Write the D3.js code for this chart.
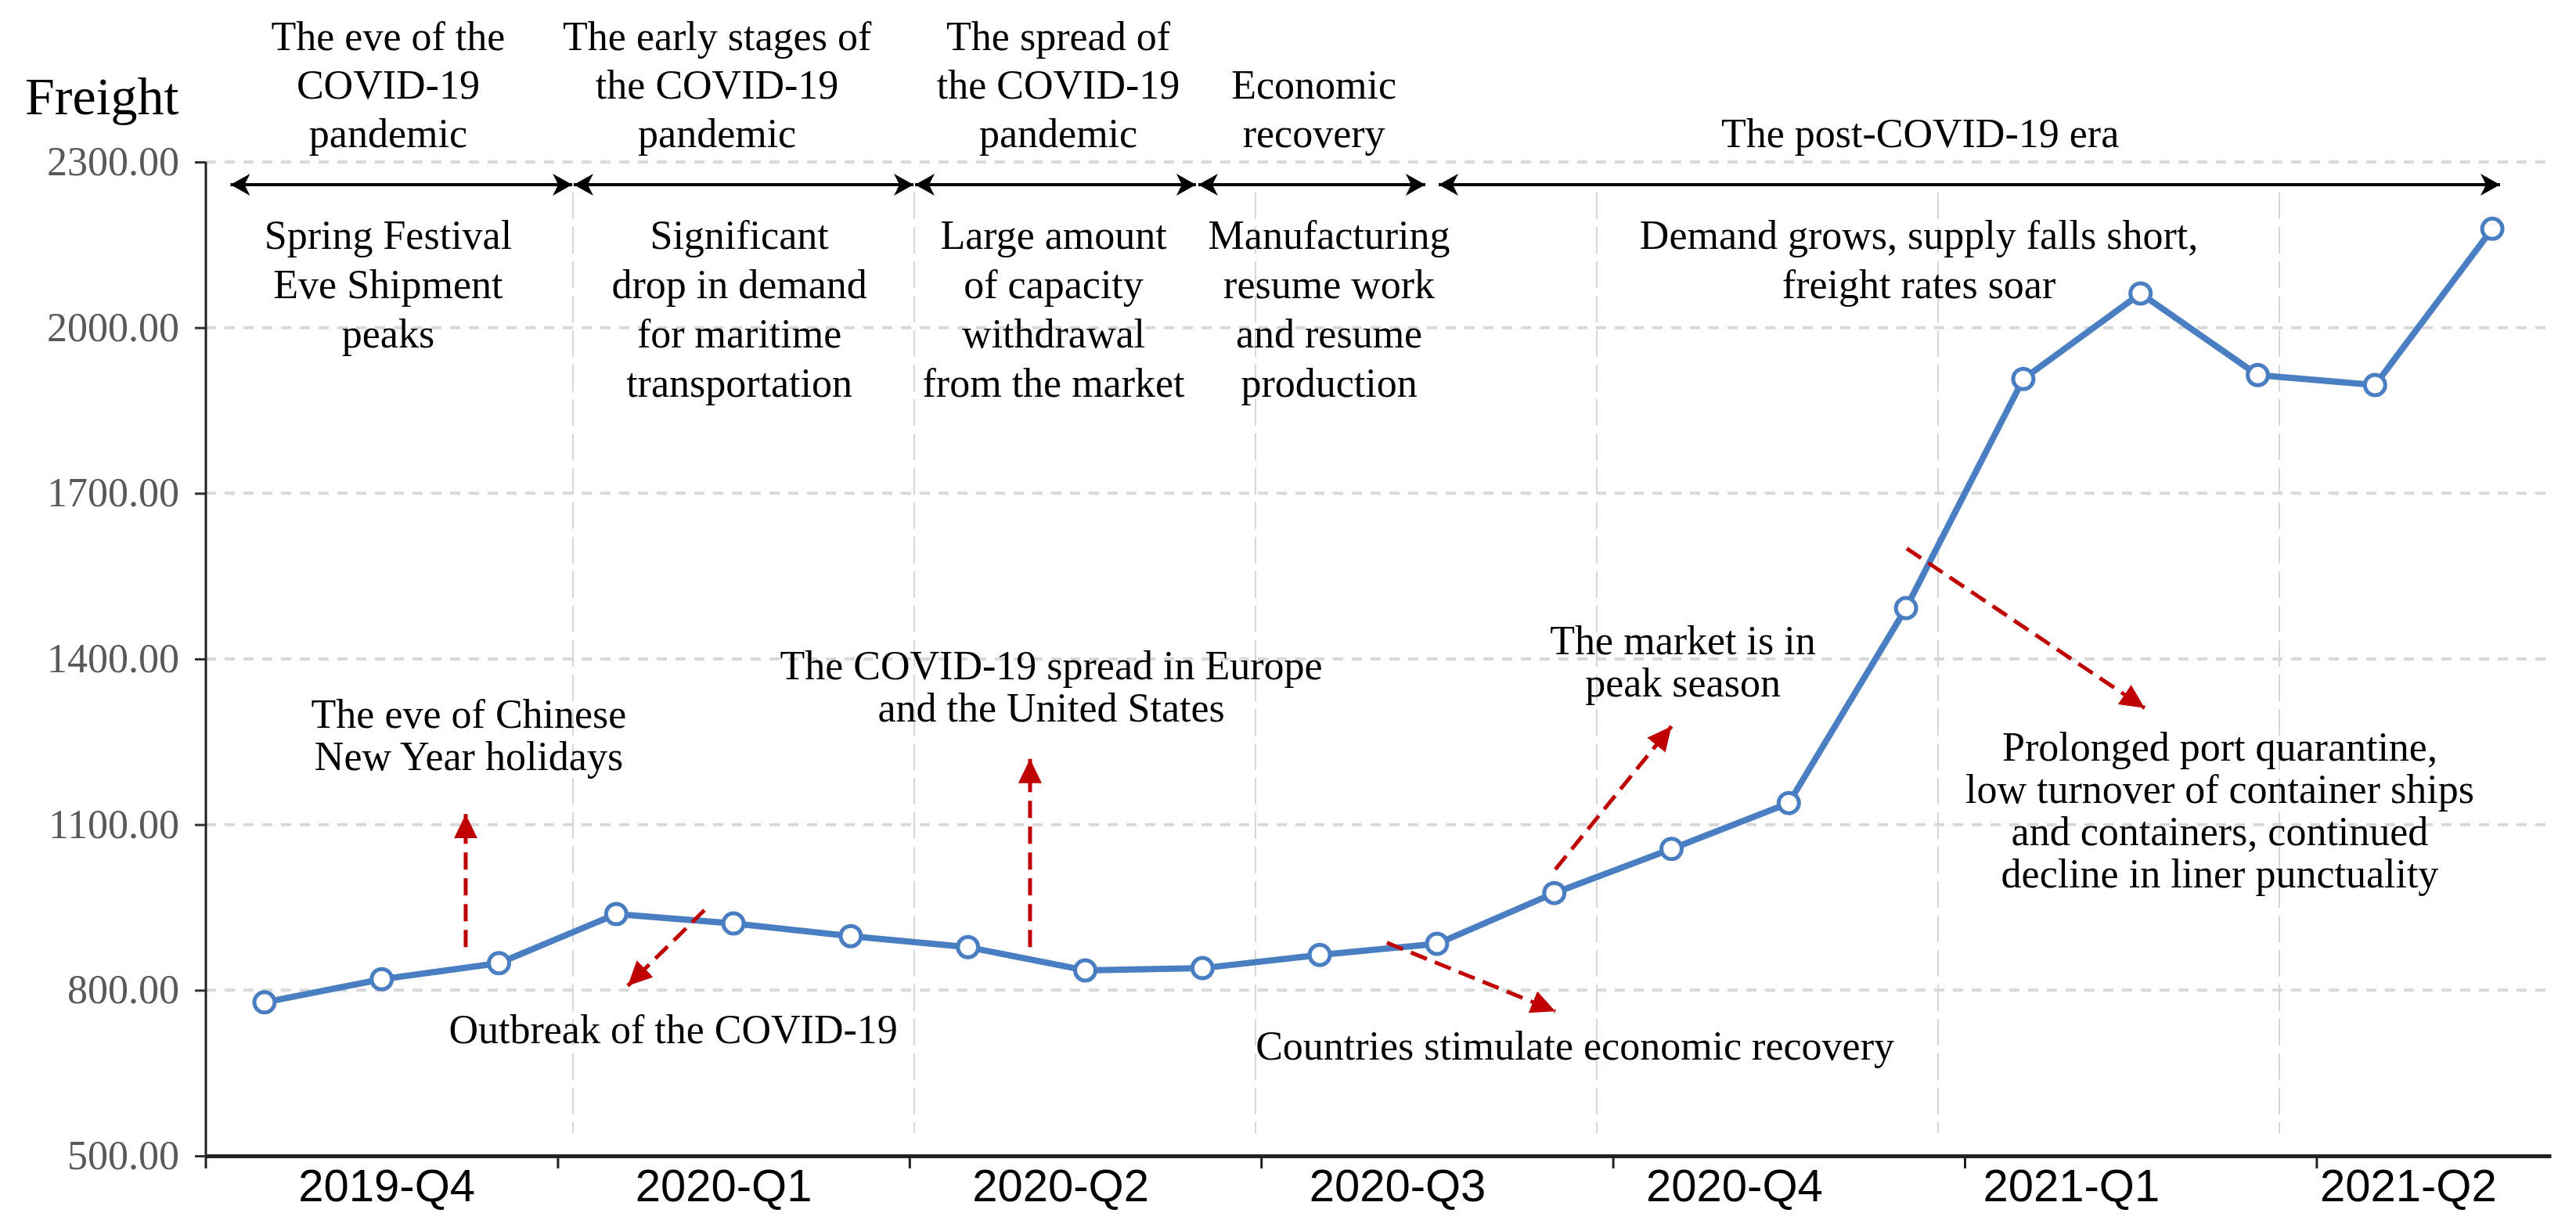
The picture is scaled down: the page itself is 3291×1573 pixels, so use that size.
<!DOCTYPE html>
<html>
<head>
<meta charset="utf-8">
<script src="https://cdn.jsdelivr.net/npm/d3@7"></script>
<style>
  body { margin: 0; background: #fff; }
  text { font-family: "Liberation Serif", "Times New Roman", serif; }
</style>
</head>
<body>
<div class="chart"></div>
<script>
// monthly freight index, Oct 2019 .. May 2021
const months = ["2019-10","2019-11","2019-12","2020-01","2020-02","2020-03","2020-04","2020-05","2020-06",
  "2020-07","2020-08","2020-09","2020-10","2020-11","2020-12","2021-01","2021-02","2021-03","2021-04","2021-05"]
const freight = [778, 820, 849, 938, 921, 898, 878, 836, 840, 864, 884, 976, 1056, 1139, 1492, 1907, 2062, 1914, 1896, 2179]
const quarters = ["2019-Q4","2020-Q1","2020-Q2","2020-Q3","2020-Q4","2021-Q1","2021-Q2"]
const quarterBreaks = [2.5, 5.5, 8.5, 11.5, 14.5, 17.5]
const yTicks = [500, 800, 1100, 1400, 1700, 2000, 2300]

// phases (in month-index units)
const phaseTop = [
  ["The eve of the", "COVID-19", "pandemic"],
  ["The early stages of", "the COVID-19", "pandemic"],
  ["The spread of", "the COVID-19", "pandemic"],
  ["Economic", "recovery"],
  ["The post-COVID-19 era"]
]
const phaseBottom = [
  ["Spring Festival", "Eve Shipment", "peaks"],
  ["Significant", "drop in demand", "for maritime", "transportation"],
  ["Large amount", "of capacity", "withdrawal", "from the market"],
  ["Manufacturing", "resume work", "and resume", "production"],
  ["Demand grows, supply falls short,", "freight rates soar"]
]
const phaseSpan = [[-0.29, 2.625], [2.637, 5.535], [5.548, 7.944], [7.964, 9.9], [10.014, 19.066]]
const phaseTopAt = [1.055, 3.86, 6.77, 8.95, 14.12]
const phaseBottomAt = [1.055, 4.05, 6.73, 9.08, 14.11]

// event notes: text anchor and red arrow (month index, freight)
const noteText = [
  ["The eve of Chinese", "New Year holidays"],
  ["Outbreak of the COVID-19"],
  ["The COVID-19 spread in Europe", "and the United States"],
  ["Countries stimulate economic recovery"],
  ["The market is in", "peak season"],
  ["Prolonged port quarantine,", "low turnover of container ships", "and containers, continued", "decline in liner punctuality"]
]
const noteAt = [[1.743, 1275], [3.486, 704], [6.71, 1363], [11.176, 674], [12.097, 1408], [16.676, 1216]]
const arrowFrom = [[1.716, 878], [3.752, 945], [6.529, 878], [9.573, 886], [11.009, 1019], [14.006, 1600]]
const arrowTo = [[1.716, 1119], [3.098, 808], [6.529, 1219], [11.009, 762], [12.0, 1278], [16.035, 1311]]

const W = 3291
const H = 1573
const blue = "#4a7ec2"
const red = "#c00000"

const svg = d3.select(".chart").append("svg")
  .attr("width", W).attr("height", H)

const defs = svg.append("defs")
defs.append("marker")
  .attr("id", "headBlack")
  .attr("markerUnits", "userSpaceOnUse")
  .attr("markerWidth", 26).attr("markerHeight", 28)
  .attr("refX", 25).attr("refY", 14)
  .attr("orient", "auto-start-reverse")
  .append("path").attr("d", "M0,0 L25,14 L0,28 L7,14 Z").attr("fill", "#000")
defs.append("marker")
  .attr("id", "headRed")
  .attr("markerUnits", "userSpaceOnUse")
  .attr("markerWidth", 32).attr("markerHeight", 30)
  .attr("refX", 31).attr("refY", 15)
  .attr("orient", "auto")
  .append("path").attr("d", "M0,0 L31,15 L0,30 Z").attr("fill", red)

const x = d3.scaleLinear().domain([-0.5, 19.5]).range([263, 3259])
const y = d3.scaleLinear().domain([500, 2300]).range([1477, 207])
const labelX = d3.scaleBand().domain(quarters).range([279, 3292])
const gridX = d3.scaleLinear().domain([0, 7]).range([296, 3348])

// grid
svg.append("g")
  .selectAll("line")
  .data(yTicks.slice(1))
  .enter()
  .append("line")
  .attr("x1", x(-0.5)).attr("x2", x(19.5))
  .attr("y1", (d) => y(d)).attr("y2", (d) => y(d))
  .attr("stroke", "#d9d9d9").attr("stroke-width", 4)
  .attr("stroke-dasharray", "13,11")

svg.append("g")
  .selectAll("line")
  .data(d3.range(1, 7))
  .enter()
  .append("line")
  .attr("x1", (d) => gridX(d)).attr("x2", (d) => gridX(d))
  .attr("y1", 246).attr("y2", 1448)
  .attr("stroke", "#d6d6d6").attr("stroke-width", 2)
  .attr("stroke-dasharray", "34,10")

// y axis
const yAxis = svg.append("g")
  .attr("transform", `translate(${x(-0.5)},0)`)
  .call(d3.axisLeft(y).tickValues(yTicks).tickFormat(d3.format(".2f")).tickSize(14).tickSizeOuter(0).tickPadding(20))
yAxis.select(".domain").remove()
yAxis.selectAll(".tick line").attr("stroke", "#333").attr("stroke-width", 3)
yAxis.selectAll(".tick text")
  .attr("font-family", "Liberation Serif, serif")
  .attr("font-size", 52)
  .attr("fill", "#595959")

svg.append("line")
  .attr("x1", x(-0.5)).attr("x2", x(-0.5))
  .attr("y1", y(2300)).attr("y2", y(500) + 16)
  .attr("stroke", "#222").attr("stroke-width", 3)

// x axis
const xAxis = svg.append("g")
  .attr("transform", `translate(0,${y(500)})`)
  .call(d3.axisBottom(x).tickValues(quarterBreaks).tickFormat("").tickSize(16).tickSizeOuter(0))
xAxis.select(".domain").attr("stroke", "#222").attr("stroke-width", 5)
xAxis.selectAll(".tick line").attr("stroke", "#222").attr("stroke-width", 3)

svg.append("g")
  .selectAll("text")
  .data(quarters)
  .enter()
  .append("text")
  .attr("x", (d) => labelX(d) + labelX.bandwidth() / 2)
  .attr("y", 1535)
  .attr("text-anchor", "middle")
  .style("font-family", "Liberation Sans, Arial, sans-serif")
  .attr("font-size", 58)
  .attr("fill", "#000")
  .text((d) => d)

svg.append("text")
  .attr("x", 32).attr("y", 146)
  .attr("font-size", 68)
  .attr("fill", "#000")
  .text("Freight")

// phase timeline
svg.append("g")
  .selectAll("line")
  .data(phaseSpan)
  .enter()
  .append("line")
  .attr("x1", (d) => x(d[0])).attr("x2", (d) => x(d[1]))
  .attr("y1", 236).attr("y2", 236)
  .attr("stroke", "#000").attr("stroke-width", 4)
  .attr("marker-start", "url(#headBlack)")
  .attr("marker-end", "url(#headBlack)")

const multiLine = (sel, lines, dy) => {
  lines.forEach((t, i) => {
    sel.append("tspan").attr("x", sel.attr("x")).attr("dy", i === 0 ? 0 : dy).text(t)
  })
}

phaseTop.forEach((lines, k) => {
  const t = svg.append("text")
    .attr("x", x(phaseTopAt[k]))
    .attr("y", 188 - (lines.length - 1) * 62)
    .attr("text-anchor", "middle")
    .attr("font-size", 52)
  multiLine(t, lines, 62)
})

phaseBottom.forEach((lines, k) => {
  const t = svg.append("text")
    .attr("x", x(phaseBottomAt[k]))
    .attr("y", 318)
    .attr("text-anchor", "middle")
    .attr("font-size", 52)
  multiLine(t, lines, 63)
})

// freight line
const line = d3.line().x((d, i) => x(i)).y((d) => y(d))
svg.append("path")
  .datum(freight)
  .attr("d", line)
  .attr("fill", "none")
  .attr("stroke", blue)
  .attr("stroke-width", 8)
  .attr("stroke-linejoin", "round")

svg.append("g")
  .selectAll("circle")
  .data(freight)
  .enter()
  .append("circle")
  .attr("cx", (d, i) => x(i))
  .attr("cy", (d) => y(d))
  .attr("r", 13)
  .attr("fill", "#fff")
  .attr("stroke", blue)
  .attr("stroke-width", 5)
  .attr("data-month", (d, i) => months[i])

// event arrows and notes
svg.append("g")
  .selectAll("line")
  .data(arrowFrom)
  .enter()
  .append("line")
  .attr("x1", (d) => x(d[0])).attr("y1", (d) => y(d[1]))
  .attr("x2", (d, i) => x(arrowTo[i][0])).attr("y2", (d, i) => y(arrowTo[i][1]))
  .attr("stroke", red).attr("stroke-width", 5)
  .attr("stroke-dasharray", "22,11")
  .attr("marker-end", "url(#headRed)")

noteText.forEach((lines, k) => {
  const t = svg.append("text")
    .attr("x", x(noteAt[k][0]))
    .attr("y", y(noteAt[k][1]))
    .attr("text-anchor", "middle")
    .attr("font-size", 52)
  multiLine(t, lines, 54)
})
</script>
</body>
</html>
